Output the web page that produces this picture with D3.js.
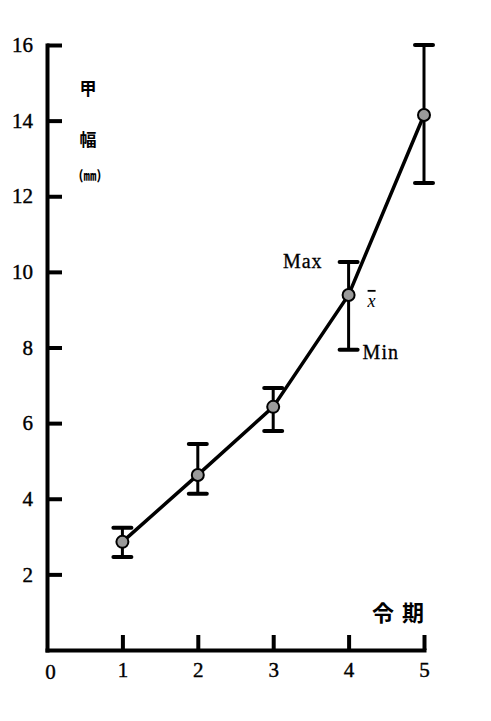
<!DOCTYPE html>
<html>
<head>
<meta charset="utf-8">
<script src="https://cdn.jsdelivr.net/npm/d3@7"></script>
<style>
  body { margin: 0; background: #fff; }
  svg { display: block; }
</style>
</head>
<body>
<svg width="491" height="721"></svg>
<script>
// instar stage vs width, mean with min / max
const stages = [1, 2, 3, 4, 5];
const means = [2.86, 4.63, 6.43, 9.39, 14.15];
const maxs = [3.23, 5.45, 6.93, 10.26, 16.0];
const mins = [2.46, 4.13, 5.79, 7.94, 12.35];
const xTicks = [0, 1, 2, 3, 4, 5];
const yTicks = [2, 4, 6, 8, 10, 12, 14, 16];

const data = stages.map((s, i) => ({stage: s, mean: means[i], max: maxs[i], min: mins[i]}));

const svg = d3.select("svg");
const left = 47, bottom = 650;

const x = d3.scaleLinear().domain([0, 5]).range([left, 424]);
const y = d3.scaleLinear().domain([0, 16]).range([bottom, 45]);

const serif = "'Liberation Serif', 'DejaVu Serif', serif";
const cjk = "'Noto Sans CJK JP', sans-serif";

// Y axis
const yAxis = svg.append("g")
    .attr("transform", `translate(${left},0)`)
    .call(d3.axisLeft(y).tickValues(yTicks).tickFormat(d3.format("d"))
      .tickSizeInner(-15).tickSizeOuter(0).tickPadding(14));

// X axis
const xAxis = svg.append("g")
    .attr("transform", `translate(0,${bottom})`)
    .call(d3.axisBottom(x).tickValues(xTicks).tickFormat(d3.format("d"))
      .tickSizeInner(-15).tickSizeOuter(0).tickPadding(12));

[yAxis, xAxis].forEach(g => {
  g.select(".domain").attr("stroke", "#000").attr("stroke-width", 4).attr("stroke-linecap", "square");
  g.selectAll(".tick line").attr("stroke", "#000").attr("stroke-width", 4);
  g.selectAll(".tick text")
    .attr("fill", "#000")
    .attr("stroke", "#000")
    .attr("stroke-width", 0.4)
    .attr("font-family", serif)
    .attr("font-size", 21);
});
xAxis.selectAll(".tick").filter(d => d === 0).select("line").remove();
xAxis.selectAll(".tick").filter(d => d === 0).select("text").attr("dx", 3).attr("dy", "0.8em");

// axis titles
svg.append("text").attr("x", 88).attr("y", 95)
  .attr("text-anchor", "middle").attr("font-family", cjk).attr("font-size", 17).attr("font-weight", "bold")
  .attr("fill", "#000")
  .text("甲");
svg.append("text").attr("x", 88).attr("y", 146)
  .attr("text-anchor", "middle").attr("font-family", cjk).attr("font-size", 17).attr("font-weight", "bold")
  .attr("fill", "#000")
  .text("幅");
svg.append("text").attr("x", 90).attr("y", 180)
  .attr("text-anchor", "middle").attr("font-family", cjk).attr("font-size", 13).attr("font-weight", "bold")
  .attr("fill", "#000")
  .text("(㎜)");
svg.append("text").attr("x", 372).attr("y", 621)
  .attr("font-family", cjk).attr("font-size", 22).attr("font-weight", "bold")
  .attr("letter-spacing", 8)
  .text("令期");

// straight segments through the means
const line = d3.line()
  .x(d => x(d.stage))
  .y(d => y(d.mean));

svg.append("path")
  .datum(data)
  .attr("d", line)
  .attr("fill", "none")
  .attr("stroke", "#000")
  .attr("stroke-width", 3.5);

// range bars
const bars = svg.append("g").selectAll("g").data(data).enter().append("g");
bars.append("line")
  .attr("x1", d => x(d.stage)).attr("x2", d => x(d.stage))
  .attr("y1", d => y(d.max)).attr("y2", d => y(d.min))
  .attr("stroke", "#000").attr("stroke-width", 3);
bars.append("line")
  .attr("x1", d => x(d.stage) - 9).attr("x2", d => x(d.stage) + 9)
  .attr("y1", d => y(d.max)).attr("y2", d => y(d.max))
  .attr("stroke", "#000").attr("stroke-width", 4).attr("stroke-linecap", "round");
bars.append("line")
  .attr("x1", d => x(d.stage) - 9).attr("x2", d => x(d.stage) + 9)
  .attr("y1", d => y(d.min)).attr("y2", d => y(d.min))
  .attr("stroke", "#000").attr("stroke-width", 4).attr("stroke-linecap", "round");

// mean markers
svg.append("g").selectAll("circle").data(data).enter().append("circle")
  .attr("cx", d => x(d.stage))
  .attr("cy", d => y(d.mean))
  .attr("r", 6)
  .attr("fill", "#9a9a9a")
  .attr("stroke", "#000")
  .attr("stroke-width", 2);

// annotation on stage 4
const a = data[3];
svg.append("text")
  .attr("x", x(a.stage) - 26).attr("y", y(a.max) + 6)
  .attr("text-anchor", "end").attr("font-family", serif).attr("font-size", 20).attr("letter-spacing", 1)
  .attr("stroke", "#000").attr("stroke-width", 0.3)
  .text("Max");
svg.append("text")
  .attr("x", x(a.stage) + 14).attr("y", y(a.min) + 9)
  .attr("font-family", serif).attr("font-size", 20).attr("letter-spacing", 1)
  .attr("stroke", "#000").attr("stroke-width", 0.3)
  .text("Min");
svg.append("text")
  .attr("x", x(a.stage) + 19).attr("y", y(a.mean) + 12)
  .attr("font-family", serif).attr("font-size", 18).attr("font-style", "italic")
  .style("text-decoration", "overline")
  .text("x");
</script>
</body>
</html>
